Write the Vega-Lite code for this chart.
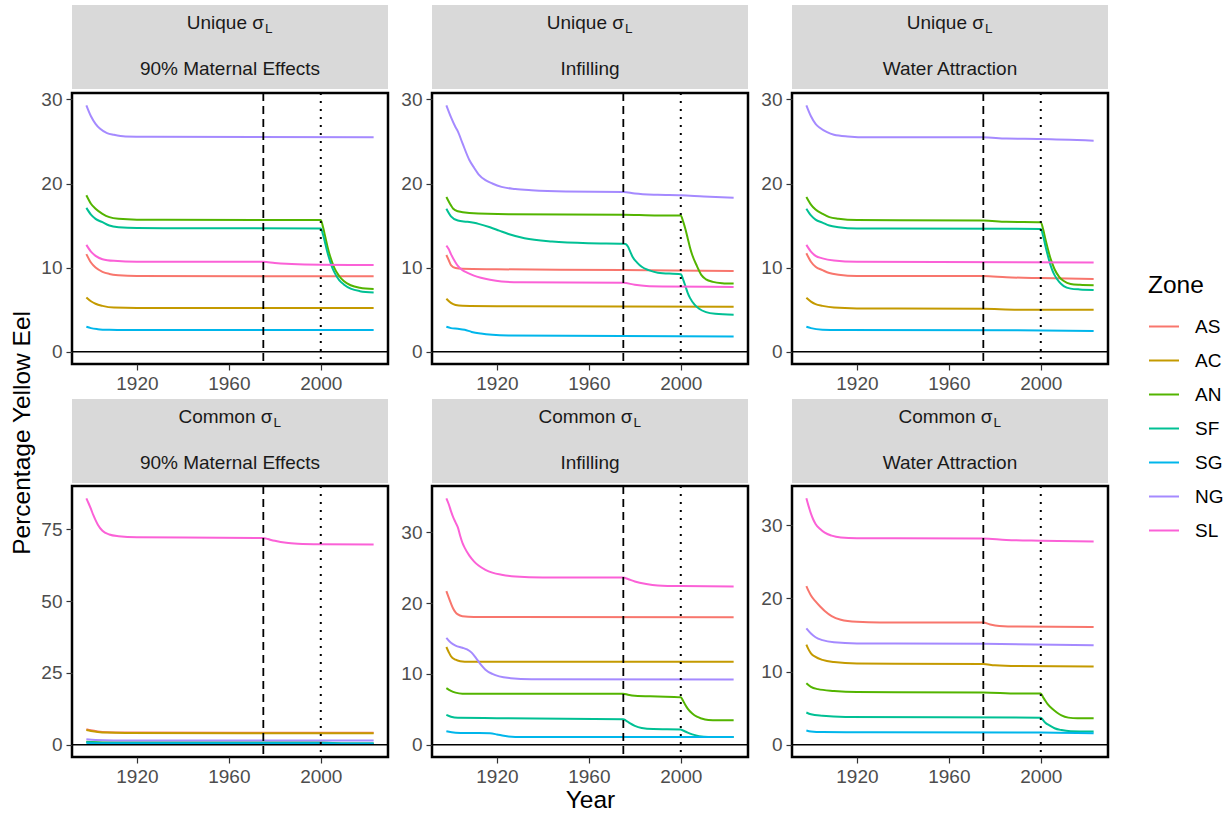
{
  "$schema": "https://vega.github.io/schema/vega-lite/v6.json",
  "background": "white",
  "padding": {"left": 10, "top": 5, "right": 5, "bottom": 5},
  "title": {"text": "Percentage Yellow Eel", "orient": "left", "anchor": "middle", "font": "Liberation Sans", "fontSize": 24.5, "fontWeight": "normal", "color": "black", "offset": 4, "dx": -24},
  "config": {
    "font": "Liberation Sans",
    "view": {"stroke": "black", "strokeWidth": 2.5},
    "axis": {"grid": false, "domain": false, "tickColor": "#333333", "tickSize": 6, "tickWidth": 1.2, "labelColor": "#4D4D4D", "labelFontSize": 19, "labelFont": "Liberation Sans", "labelPadding": 4, "labelFlush": false, "titleFont": "Liberation Sans", "titleFontSize": 24.5, "titleFontWeight": "normal", "titleColor": "black"},
    "legend": {"symbolType": "stroke", "symbolSize": 900, "symbolStrokeWidth": 2, "labelFontSize": 19, "labelColor": "black", "labelFont": "Liberation Sans", "titleFont": "Liberation Sans", "titleFontSize": 24.5, "titleFontWeight": "normal", "titleColor": "black", "titlePadding": 12, "rowPadding": 8, "labelOffset": 15, "padding": 0}
  },
  "datasets": {
    "strips": [
      {"panel": "U-ME", "sigma": "Unique σ", "sub": "L", "scenario": "90% Maternal Effects"},
      {"panel": "U-IN", "sigma": "Unique σ", "sub": "L", "scenario": "Infilling"},
      {"panel": "U-WA", "sigma": "Unique σ", "sub": "L", "scenario": "Water Attraction"},
      {"panel": "C-ME", "sigma": "Common σ", "sub": "L", "scenario": "90% Maternal Effects"},
      {"panel": "C-IN", "sigma": "Common σ", "sub": "L", "scenario": "Infilling"},
      {"panel": "C-WA", "sigma": "Common σ", "sub": "L", "scenario": "Water Attraction"}
    ],
    "eel": [
      {"panel":"U-ME","zone":"AS","year":1898,"pct":11.6},{"panel":"U-ME","zone":"AS","year":1900,"pct":10.6},{"panel":"U-ME","zone":"AS","year":1902,"pct":10.0},{"panel":"U-ME","zone":"AS","year":1905,"pct":9.5},{"panel":"U-ME","zone":"AS","year":1908,"pct":9.25},{"panel":"U-ME","zone":"AS","year":1912,"pct":9.1},{"panel":"U-ME","zone":"AS","year":1920,"pct":9.0},{"panel":"U-ME","zone":"AS","year":2023,"pct":8.97},
      {"panel":"U-ME","zone":"AC","year":1898,"pct":6.45},{"panel":"U-ME","zone":"AC","year":1900,"pct":6.0},{"panel":"U-ME","zone":"AC","year":1902,"pct":5.7},{"panel":"U-ME","zone":"AC","year":1905,"pct":5.45},{"panel":"U-ME","zone":"AC","year":1910,"pct":5.25},{"panel":"U-ME","zone":"AC","year":1920,"pct":5.2},{"panel":"U-ME","zone":"AC","year":2023,"pct":5.2},
      {"panel":"U-ME","zone":"AN","year":1898,"pct":18.6},{"panel":"U-ME","zone":"AN","year":1900,"pct":17.6},{"panel":"U-ME","zone":"AN","year":1902,"pct":17.0},{"panel":"U-ME","zone":"AN","year":1905,"pct":16.4},{"panel":"U-ME","zone":"AN","year":1908,"pct":16.0},{"panel":"U-ME","zone":"AN","year":1912,"pct":15.8},{"panel":"U-ME","zone":"AN","year":1920,"pct":15.7},{"panel":"U-ME","zone":"AN","year":2000,"pct":15.65},{"panel":"U-ME","zone":"AN","year":2001,"pct":14.8},{"panel":"U-ME","zone":"AN","year":2002,"pct":13.6},{"panel":"U-ME","zone":"AN","year":2003,"pct":12.4},{"panel":"U-ME","zone":"AN","year":2004,"pct":11.4},{"panel":"U-ME","zone":"AN","year":2005,"pct":10.6},{"panel":"U-ME","zone":"AN","year":2006,"pct":9.9},{"panel":"U-ME","zone":"AN","year":2008,"pct":9.0},{"panel":"U-ME","zone":"AN","year":2010,"pct":8.4},{"panel":"U-ME","zone":"AN","year":2013,"pct":7.9},{"panel":"U-ME","zone":"AN","year":2017,"pct":7.6},{"panel":"U-ME","zone":"AN","year":2023,"pct":7.45},
      {"panel":"U-ME","zone":"SF","year":1898,"pct":17.1},{"panel":"U-ME","zone":"SF","year":1900,"pct":16.3},{"panel":"U-ME","zone":"SF","year":1902,"pct":15.8},{"panel":"U-ME","zone":"SF","year":1905,"pct":15.4},{"panel":"U-ME","zone":"SF","year":1908,"pct":15.0},{"panel":"U-ME","zone":"SF","year":1912,"pct":14.8},{"panel":"U-ME","zone":"SF","year":1920,"pct":14.7},{"panel":"U-ME","zone":"SF","year":2000,"pct":14.65},{"panel":"U-ME","zone":"SF","year":2001,"pct":13.9},{"panel":"U-ME","zone":"SF","year":2002,"pct":12.8},{"panel":"U-ME","zone":"SF","year":2003,"pct":11.7},{"panel":"U-ME","zone":"SF","year":2004,"pct":10.8},{"panel":"U-ME","zone":"SF","year":2005,"pct":10.0},{"panel":"U-ME","zone":"SF","year":2006,"pct":9.4},{"panel":"U-ME","zone":"SF","year":2008,"pct":8.5},{"panel":"U-ME","zone":"SF","year":2010,"pct":8.0},{"panel":"U-ME","zone":"SF","year":2013,"pct":7.5},{"panel":"U-ME","zone":"SF","year":2017,"pct":7.2},{"panel":"U-ME","zone":"SF","year":2023,"pct":7.05},
      {"panel":"U-ME","zone":"SG","year":1898,"pct":2.96},{"panel":"U-ME","zone":"SG","year":1900,"pct":2.8},{"panel":"U-ME","zone":"SG","year":1903,"pct":2.68},{"panel":"U-ME","zone":"SG","year":1908,"pct":2.6},{"panel":"U-ME","zone":"SG","year":1915,"pct":2.57},{"panel":"U-ME","zone":"SG","year":2023,"pct":2.57},
      {"panel":"U-ME","zone":"NG","year":1898,"pct":29.3},{"panel":"U-ME","zone":"NG","year":1900,"pct":28.0},{"panel":"U-ME","zone":"NG","year":1902,"pct":27.1},{"panel":"U-ME","zone":"NG","year":1904,"pct":26.5},{"panel":"U-ME","zone":"NG","year":1907,"pct":26.0},{"panel":"U-ME","zone":"NG","year":1910,"pct":25.8},{"panel":"U-ME","zone":"NG","year":1915,"pct":25.6},{"panel":"U-ME","zone":"NG","year":1925,"pct":25.55},{"panel":"U-ME","zone":"NG","year":2023,"pct":25.5},
      {"panel":"U-ME","zone":"SL","year":1898,"pct":12.7},{"panel":"U-ME","zone":"SL","year":1900,"pct":11.9},{"panel":"U-ME","zone":"SL","year":1902,"pct":11.4},{"panel":"U-ME","zone":"SL","year":1905,"pct":11.0},{"panel":"U-ME","zone":"SL","year":1910,"pct":10.8},{"panel":"U-ME","zone":"SL","year":1920,"pct":10.7},{"panel":"U-ME","zone":"SL","year":1975,"pct":10.7},{"panel":"U-ME","zone":"SL","year":1980,"pct":10.55},{"panel":"U-ME","zone":"SL","year":1985,"pct":10.45},{"panel":"U-ME","zone":"SL","year":1990,"pct":10.4},{"panel":"U-ME","zone":"SL","year":2023,"pct":10.3},

      {"panel":"U-IN","zone":"AS","year":1898,"pct":11.5},{"panel":"U-IN","zone":"AS","year":1899,"pct":10.9},{"panel":"U-IN","zone":"AS","year":1900,"pct":10.3},{"panel":"U-IN","zone":"AS","year":1902,"pct":9.95},{"panel":"U-IN","zone":"AS","year":1905,"pct":9.85},{"panel":"U-IN","zone":"AS","year":1920,"pct":9.8},{"panel":"U-IN","zone":"AS","year":1975,"pct":9.7},{"panel":"U-IN","zone":"AS","year":2023,"pct":9.6},
      {"panel":"U-IN","zone":"AC","year":1898,"pct":6.3},{"panel":"U-IN","zone":"AC","year":1900,"pct":5.8},{"panel":"U-IN","zone":"AC","year":1902,"pct":5.55},{"panel":"U-IN","zone":"AC","year":1905,"pct":5.45},{"panel":"U-IN","zone":"AC","year":1920,"pct":5.4},{"panel":"U-IN","zone":"AC","year":2023,"pct":5.35},
      {"panel":"U-IN","zone":"AN","year":1898,"pct":18.4},{"panel":"U-IN","zone":"AN","year":1900,"pct":17.4},{"panel":"U-IN","zone":"AN","year":1901,"pct":17.0},{"panel":"U-IN","zone":"AN","year":1903,"pct":16.7},{"panel":"U-IN","zone":"AN","year":1908,"pct":16.5},{"panel":"U-IN","zone":"AN","year":1925,"pct":16.35},{"panel":"U-IN","zone":"AN","year":1975,"pct":16.3},{"panel":"U-IN","zone":"AN","year":1990,"pct":16.2},{"panel":"U-IN","zone":"AN","year":2000,"pct":16.2},{"panel":"U-IN","zone":"AN","year":2001,"pct":15.5},{"panel":"U-IN","zone":"AN","year":2002,"pct":14.6},{"panel":"U-IN","zone":"AN","year":2003,"pct":13.5},{"panel":"U-IN","zone":"AN","year":2004,"pct":12.4},{"panel":"U-IN","zone":"AN","year":2005,"pct":11.5},{"panel":"U-IN","zone":"AN","year":2007,"pct":10.2},{"panel":"U-IN","zone":"AN","year":2009,"pct":9.1},{"panel":"U-IN","zone":"AN","year":2011,"pct":8.6},{"panel":"U-IN","zone":"AN","year":2014,"pct":8.3},{"panel":"U-IN","zone":"AN","year":2018,"pct":8.15},{"panel":"U-IN","zone":"AN","year":2023,"pct":8.1},
      {"panel":"U-IN","zone":"SF","year":1898,"pct":17.0},{"panel":"U-IN","zone":"SF","year":1900,"pct":16.1},{"panel":"U-IN","zone":"SF","year":1903,"pct":15.6},{"panel":"U-IN","zone":"SF","year":1907,"pct":15.45},{"panel":"U-IN","zone":"SF","year":1912,"pct":15.2},{"panel":"U-IN","zone":"SF","year":1917,"pct":14.8},{"panel":"U-IN","zone":"SF","year":1921,"pct":14.4},{"panel":"U-IN","zone":"SF","year":1925,"pct":14.0},{"panel":"U-IN","zone":"SF","year":1932,"pct":13.5},{"panel":"U-IN","zone":"SF","year":1944,"pct":13.1},{"panel":"U-IN","zone":"SF","year":1960,"pct":12.9},{"panel":"U-IN","zone":"SF","year":1975,"pct":12.85},{"panel":"U-IN","zone":"SF","year":1976,"pct":12.8},{"panel":"U-IN","zone":"SF","year":1977,"pct":12.5},{"panel":"U-IN","zone":"SF","year":1978,"pct":11.9},{"panel":"U-IN","zone":"SF","year":1979,"pct":11.3},{"panel":"U-IN","zone":"SF","year":1981,"pct":10.6},{"panel":"U-IN","zone":"SF","year":1983,"pct":10.1},{"panel":"U-IN","zone":"SF","year":1986,"pct":9.7},{"panel":"U-IN","zone":"SF","year":1990,"pct":9.4},{"panel":"U-IN","zone":"SF","year":2000,"pct":9.2},{"panel":"U-IN","zone":"SF","year":2001,"pct":8.6},{"panel":"U-IN","zone":"SF","year":2002,"pct":7.8},{"panel":"U-IN","zone":"SF","year":2003,"pct":7.0},{"panel":"U-IN","zone":"SF","year":2004,"pct":6.4},{"panel":"U-IN","zone":"SF","year":2006,"pct":5.6},{"panel":"U-IN","zone":"SF","year":2008,"pct":5.1},{"panel":"U-IN","zone":"SF","year":2011,"pct":4.7},{"panel":"U-IN","zone":"SF","year":2015,"pct":4.5},{"panel":"U-IN","zone":"SF","year":2023,"pct":4.4},
      {"panel":"U-IN","zone":"SG","year":1898,"pct":2.96},{"panel":"U-IN","zone":"SG","year":1900,"pct":2.8},{"panel":"U-IN","zone":"SG","year":1903,"pct":2.72},{"panel":"U-IN","zone":"SG","year":1906,"pct":2.6},{"panel":"U-IN","zone":"SG","year":1909,"pct":2.35},{"panel":"U-IN","zone":"SG","year":1913,"pct":2.15},{"panel":"U-IN","zone":"SG","year":1918,"pct":2.0},{"panel":"U-IN","zone":"SG","year":1925,"pct":1.92},{"panel":"U-IN","zone":"SG","year":1950,"pct":1.88},{"panel":"U-IN","zone":"SG","year":2023,"pct":1.8},
      {"panel":"U-IN","zone":"NG","year":1898,"pct":29.3},{"panel":"U-IN","zone":"NG","year":1900,"pct":27.9},{"panel":"U-IN","zone":"NG","year":1902,"pct":26.7},{"panel":"U-IN","zone":"NG","year":1903,"pct":26.2},{"panel":"U-IN","zone":"NG","year":1905,"pct":24.8},{"panel":"U-IN","zone":"NG","year":1908,"pct":22.8},{"panel":"U-IN","zone":"NG","year":1910,"pct":21.9},{"panel":"U-IN","zone":"NG","year":1912,"pct":21.1},{"panel":"U-IN","zone":"NG","year":1915,"pct":20.4},{"panel":"U-IN","zone":"NG","year":1918,"pct":20.0},{"panel":"U-IN","zone":"NG","year":1922,"pct":19.6},{"panel":"U-IN","zone":"NG","year":1928,"pct":19.35},{"panel":"U-IN","zone":"NG","year":1935,"pct":19.2},{"panel":"U-IN","zone":"NG","year":1950,"pct":19.05},{"panel":"U-IN","zone":"NG","year":1975,"pct":19.0},{"panel":"U-IN","zone":"NG","year":1980,"pct":18.8},{"panel":"U-IN","zone":"NG","year":1990,"pct":18.65},{"panel":"U-IN","zone":"NG","year":2000,"pct":18.6},{"panel":"U-IN","zone":"NG","year":2010,"pct":18.45},{"panel":"U-IN","zone":"NG","year":2023,"pct":18.3},
      {"panel":"U-IN","zone":"SL","year":1898,"pct":12.6},{"panel":"U-IN","zone":"SL","year":1899,"pct":12.2},{"panel":"U-IN","zone":"SL","year":1900,"pct":11.6},{"panel":"U-IN","zone":"SL","year":1902,"pct":10.6},{"panel":"U-IN","zone":"SL","year":1903,"pct":10.2},{"panel":"U-IN","zone":"SL","year":1905,"pct":9.7},{"panel":"U-IN","zone":"SL","year":1907,"pct":9.4},{"panel":"U-IN","zone":"SL","year":1910,"pct":9.05},{"panel":"U-IN","zone":"SL","year":1913,"pct":8.8},{"panel":"U-IN","zone":"SL","year":1917,"pct":8.55},{"panel":"U-IN","zone":"SL","year":1922,"pct":8.35},{"panel":"U-IN","zone":"SL","year":1930,"pct":8.25},{"panel":"U-IN","zone":"SL","year":1975,"pct":8.2},{"panel":"U-IN","zone":"SL","year":1980,"pct":7.95},{"panel":"U-IN","zone":"SL","year":1985,"pct":7.8},{"panel":"U-IN","zone":"SL","year":1992,"pct":7.75},{"panel":"U-IN","zone":"SL","year":2023,"pct":7.7},

      {"panel":"U-WA","zone":"AS","year":1898,"pct":11.7},{"panel":"U-WA","zone":"AS","year":1900,"pct":10.7},{"panel":"U-WA","zone":"AS","year":1902,"pct":10.1},{"panel":"U-WA","zone":"AS","year":1905,"pct":9.7},{"panel":"U-WA","zone":"AS","year":1908,"pct":9.35},{"panel":"U-WA","zone":"AS","year":1912,"pct":9.15},{"panel":"U-WA","zone":"AS","year":1920,"pct":9.0},{"panel":"U-WA","zone":"AS","year":1975,"pct":9.0},{"panel":"U-WA","zone":"AS","year":1985,"pct":8.85},{"panel":"U-WA","zone":"AS","year":2000,"pct":8.75},{"panel":"U-WA","zone":"AS","year":2023,"pct":8.65},
      {"panel":"U-WA","zone":"AC","year":1898,"pct":6.4},{"panel":"U-WA","zone":"AC","year":1900,"pct":5.95},{"panel":"U-WA","zone":"AC","year":1902,"pct":5.65},{"panel":"U-WA","zone":"AC","year":1905,"pct":5.45},{"panel":"U-WA","zone":"AC","year":1910,"pct":5.25},{"panel":"U-WA","zone":"AC","year":1920,"pct":5.15},{"panel":"U-WA","zone":"AC","year":1975,"pct":5.1},{"panel":"U-WA","zone":"AC","year":1990,"pct":5.0},{"panel":"U-WA","zone":"AC","year":2023,"pct":5.0},
      {"panel":"U-WA","zone":"AN","year":1898,"pct":18.4},{"panel":"U-WA","zone":"AN","year":1900,"pct":17.5},{"panel":"U-WA","zone":"AN","year":1902,"pct":16.9},{"panel":"U-WA","zone":"AN","year":1905,"pct":16.4},{"panel":"U-WA","zone":"AN","year":1908,"pct":16.0},{"panel":"U-WA","zone":"AN","year":1912,"pct":15.8},{"panel":"U-WA","zone":"AN","year":1920,"pct":15.65},{"panel":"U-WA","zone":"AN","year":1975,"pct":15.6},{"panel":"U-WA","zone":"AN","year":1985,"pct":15.45},{"panel":"U-WA","zone":"AN","year":2000,"pct":15.4},{"panel":"U-WA","zone":"AN","year":2001,"pct":14.6},{"panel":"U-WA","zone":"AN","year":2002,"pct":13.4},{"panel":"U-WA","zone":"AN","year":2003,"pct":12.3},{"panel":"U-WA","zone":"AN","year":2004,"pct":11.3},{"panel":"U-WA","zone":"AN","year":2005,"pct":10.5},{"panel":"U-WA","zone":"AN","year":2006,"pct":9.8},{"panel":"U-WA","zone":"AN","year":2008,"pct":8.9},{"panel":"U-WA","zone":"AN","year":2010,"pct":8.4},{"panel":"U-WA","zone":"AN","year":2013,"pct":8.05},{"panel":"U-WA","zone":"AN","year":2017,"pct":7.95},{"panel":"U-WA","zone":"AN","year":2023,"pct":7.9},
      {"panel":"U-WA","zone":"SF","year":1898,"pct":17.0},{"panel":"U-WA","zone":"SF","year":1900,"pct":16.2},{"panel":"U-WA","zone":"SF","year":1902,"pct":15.7},{"panel":"U-WA","zone":"SF","year":1905,"pct":15.35},{"panel":"U-WA","zone":"SF","year":1908,"pct":15.0},{"panel":"U-WA","zone":"SF","year":1912,"pct":14.8},{"panel":"U-WA","zone":"SF","year":1920,"pct":14.65},{"panel":"U-WA","zone":"SF","year":2000,"pct":14.6},{"panel":"U-WA","zone":"SF","year":2001,"pct":13.8},{"panel":"U-WA","zone":"SF","year":2002,"pct":12.6},{"panel":"U-WA","zone":"SF","year":2003,"pct":11.5},{"panel":"U-WA","zone":"SF","year":2004,"pct":10.5},{"panel":"U-WA","zone":"SF","year":2005,"pct":9.7},{"panel":"U-WA","zone":"SF","year":2006,"pct":9.1},{"panel":"U-WA","zone":"SF","year":2008,"pct":8.3},{"panel":"U-WA","zone":"SF","year":2010,"pct":7.8},{"panel":"U-WA","zone":"SF","year":2013,"pct":7.5},{"panel":"U-WA","zone":"SF","year":2017,"pct":7.4},{"panel":"U-WA","zone":"SF","year":2023,"pct":7.35},
      {"panel":"U-WA","zone":"SG","year":1898,"pct":2.96},{"panel":"U-WA","zone":"SG","year":1900,"pct":2.8},{"panel":"U-WA","zone":"SG","year":1905,"pct":2.62},{"panel":"U-WA","zone":"SG","year":1912,"pct":2.57},{"panel":"U-WA","zone":"SG","year":1990,"pct":2.55},{"panel":"U-WA","zone":"SG","year":2023,"pct":2.45},
      {"panel":"U-WA","zone":"NG","year":1898,"pct":29.3},{"panel":"U-WA","zone":"NG","year":1900,"pct":28.0},{"panel":"U-WA","zone":"NG","year":1902,"pct":27.1},{"panel":"U-WA","zone":"NG","year":1904,"pct":26.6},{"panel":"U-WA","zone":"NG","year":1907,"pct":26.1},{"panel":"U-WA","zone":"NG","year":1910,"pct":25.8},{"panel":"U-WA","zone":"NG","year":1916,"pct":25.6},{"panel":"U-WA","zone":"NG","year":1925,"pct":25.5},{"panel":"U-WA","zone":"NG","year":1975,"pct":25.5},{"panel":"U-WA","zone":"NG","year":1985,"pct":25.35},{"panel":"U-WA","zone":"NG","year":2000,"pct":25.3},{"panel":"U-WA","zone":"NG","year":2023,"pct":25.1},
      {"panel":"U-WA","zone":"SL","year":1898,"pct":12.7},{"panel":"U-WA","zone":"SL","year":1900,"pct":11.9},{"panel":"U-WA","zone":"SL","year":1902,"pct":11.4},{"panel":"U-WA","zone":"SL","year":1905,"pct":11.1},{"panel":"U-WA","zone":"SL","year":1910,"pct":10.85},{"panel":"U-WA","zone":"SL","year":1920,"pct":10.7},{"panel":"U-WA","zone":"SL","year":2023,"pct":10.6},

      {"panel":"C-ME","zone":"AS","year":1898,"pct":5.4},{"panel":"C-ME","zone":"AS","year":1900,"pct":5.0},{"panel":"C-ME","zone":"AS","year":1903,"pct":4.6},{"panel":"C-ME","zone":"AS","year":1907,"pct":4.35},{"panel":"C-ME","zone":"AS","year":1915,"pct":4.25},{"panel":"C-ME","zone":"AS","year":2023,"pct":4.15},
      {"panel":"C-ME","zone":"AC","year":1898,"pct":5.1},{"panel":"C-ME","zone":"AC","year":1900,"pct":4.8},{"panel":"C-ME","zone":"AC","year":1903,"pct":4.45},{"panel":"C-ME","zone":"AC","year":1907,"pct":4.2},{"panel":"C-ME","zone":"AC","year":1915,"pct":4.05},{"panel":"C-ME","zone":"AC","year":2023,"pct":4.0},
      {"panel":"C-ME","zone":"AN","year":1898,"pct":1.0},{"panel":"C-ME","zone":"AN","year":1905,"pct":0.8},{"panel":"C-ME","zone":"AN","year":1975,"pct":0.8},{"panel":"C-ME","zone":"AN","year":2000,"pct":0.75},{"panel":"C-ME","zone":"AN","year":2010,"pct":0.45},{"panel":"C-ME","zone":"AN","year":2023,"pct":0.4},
      {"panel":"C-ME","zone":"SF","year":1898,"pct":0.9},{"panel":"C-ME","zone":"SF","year":1905,"pct":0.7},{"panel":"C-ME","zone":"SF","year":2000,"pct":0.65},{"panel":"C-ME","zone":"SF","year":2010,"pct":0.35},{"panel":"C-ME","zone":"SF","year":2023,"pct":0.3},
      {"panel":"C-ME","zone":"SG","year":1898,"pct":0.5},{"panel":"C-ME","zone":"SG","year":1910,"pct":0.4},{"panel":"C-ME","zone":"SG","year":2023,"pct":0.38},
      {"panel":"C-ME","zone":"NG","year":1898,"pct":1.9},{"panel":"C-ME","zone":"NG","year":1902,"pct":1.6},{"panel":"C-ME","zone":"NG","year":1910,"pct":1.5},{"panel":"C-ME","zone":"NG","year":2023,"pct":1.45},
      {"panel":"C-ME","zone":"SL","year":1898,"pct":85.8},{"panel":"C-ME","zone":"SL","year":1899,"pct":84.0},{"panel":"C-ME","zone":"SL","year":1900,"pct":82.1},{"panel":"C-ME","zone":"SL","year":1901,"pct":80.0},{"panel":"C-ME","zone":"SL","year":1902,"pct":78.2},{"panel":"C-ME","zone":"SL","year":1903,"pct":76.6},{"panel":"C-ME","zone":"SL","year":1905,"pct":74.5},{"panel":"C-ME","zone":"SL","year":1908,"pct":73.2},{"panel":"C-ME","zone":"SL","year":1912,"pct":72.6},{"panel":"C-ME","zone":"SL","year":1920,"pct":72.2},{"panel":"C-ME","zone":"SL","year":1975,"pct":72.0},{"panel":"C-ME","zone":"SL","year":1977,"pct":71.6},{"panel":"C-ME","zone":"SL","year":1980,"pct":71.0},{"panel":"C-ME","zone":"SL","year":1985,"pct":70.3},{"panel":"C-ME","zone":"SL","year":1990,"pct":70.0},{"panel":"C-ME","zone":"SL","year":2000,"pct":69.8},{"panel":"C-ME","zone":"SL","year":2023,"pct":69.7},

      {"panel":"C-IN","zone":"AS","year":1898,"pct":21.7},{"panel":"C-IN","zone":"AS","year":1899,"pct":20.8},{"panel":"C-IN","zone":"AS","year":1900,"pct":19.95},{"panel":"C-IN","zone":"AS","year":1901,"pct":19.2},{"panel":"C-IN","zone":"AS","year":1902,"pct":18.7},{"panel":"C-IN","zone":"AS","year":1903,"pct":18.4},{"panel":"C-IN","zone":"AS","year":1905,"pct":18.15},{"panel":"C-IN","zone":"AS","year":1910,"pct":18.05},{"panel":"C-IN","zone":"AS","year":2023,"pct":18.0},
      {"panel":"C-IN","zone":"AC","year":1898,"pct":13.8},{"panel":"C-IN","zone":"AC","year":1899,"pct":13.1},{"panel":"C-IN","zone":"AC","year":1900,"pct":12.5},{"panel":"C-IN","zone":"AC","year":1902,"pct":12.0},{"panel":"C-IN","zone":"AC","year":1904,"pct":11.8},{"panel":"C-IN","zone":"AC","year":1908,"pct":11.7},{"panel":"C-IN","zone":"AC","year":2023,"pct":11.7},
      {"panel":"C-IN","zone":"AN","year":1898,"pct":8.0},{"panel":"C-IN","zone":"AN","year":1900,"pct":7.6},{"panel":"C-IN","zone":"AN","year":1902,"pct":7.35},{"panel":"C-IN","zone":"AN","year":1905,"pct":7.2},{"panel":"C-IN","zone":"AN","year":1975,"pct":7.2},{"panel":"C-IN","zone":"AN","year":1977,"pct":7.05},{"panel":"C-IN","zone":"AN","year":1980,"pct":6.9},{"panel":"C-IN","zone":"AN","year":1990,"pct":6.8},{"panel":"C-IN","zone":"AN","year":2000,"pct":6.7},{"panel":"C-IN","zone":"AN","year":2001,"pct":6.2},{"panel":"C-IN","zone":"AN","year":2002,"pct":5.6},{"panel":"C-IN","zone":"AN","year":2003,"pct":5.1},{"panel":"C-IN","zone":"AN","year":2005,"pct":4.4},{"panel":"C-IN","zone":"AN","year":2007,"pct":3.95},{"panel":"C-IN","zone":"AN","year":2009,"pct":3.7},{"panel":"C-IN","zone":"AN","year":2012,"pct":3.5},{"panel":"C-IN","zone":"AN","year":2016,"pct":3.45},{"panel":"C-IN","zone":"AN","year":2023,"pct":3.45},
      {"panel":"C-IN","zone":"SF","year":1898,"pct":4.2},{"panel":"C-IN","zone":"SF","year":1900,"pct":3.95},{"panel":"C-IN","zone":"SF","year":1903,"pct":3.8},{"panel":"C-IN","zone":"SF","year":1920,"pct":3.75},{"panel":"C-IN","zone":"SF","year":1975,"pct":3.6},{"panel":"C-IN","zone":"SF","year":1976,"pct":3.45},{"panel":"C-IN","zone":"SF","year":1978,"pct":3.0},{"panel":"C-IN","zone":"SF","year":1980,"pct":2.65},{"panel":"C-IN","zone":"SF","year":1983,"pct":2.35},{"panel":"C-IN","zone":"SF","year":1988,"pct":2.2},{"panel":"C-IN","zone":"SF","year":2000,"pct":2.15},{"panel":"C-IN","zone":"SF","year":2001,"pct":2.0},{"panel":"C-IN","zone":"SF","year":2003,"pct":1.7},{"panel":"C-IN","zone":"SF","year":2005,"pct":1.45},{"panel":"C-IN","zone":"SF","year":2008,"pct":1.2},{"panel":"C-IN","zone":"SF","year":2012,"pct":1.1},{"panel":"C-IN","zone":"SF","year":2023,"pct":1.1},
      {"panel":"C-IN","zone":"SG","year":1898,"pct":1.9},{"panel":"C-IN","zone":"SG","year":1902,"pct":1.7},{"panel":"C-IN","zone":"SG","year":1910,"pct":1.65},{"panel":"C-IN","zone":"SG","year":1917,"pct":1.6},{"panel":"C-IN","zone":"SG","year":1920,"pct":1.45},{"panel":"C-IN","zone":"SG","year":1923,"pct":1.25},{"panel":"C-IN","zone":"SG","year":1928,"pct":1.1},{"panel":"C-IN","zone":"SG","year":2023,"pct":1.1},
      {"panel":"C-IN","zone":"NG","year":1898,"pct":15.1},{"panel":"C-IN","zone":"NG","year":1900,"pct":14.4},{"panel":"C-IN","zone":"NG","year":1902,"pct":14.0},{"panel":"C-IN","zone":"NG","year":1905,"pct":13.7},{"panel":"C-IN","zone":"NG","year":1907,"pct":13.45},{"panel":"C-IN","zone":"NG","year":1909,"pct":13.0},{"panel":"C-IN","zone":"NG","year":1911,"pct":12.2},{"panel":"C-IN","zone":"NG","year":1913,"pct":11.3},{"panel":"C-IN","zone":"NG","year":1915,"pct":10.6},{"panel":"C-IN","zone":"NG","year":1918,"pct":10.0},{"panel":"C-IN","zone":"NG","year":1921,"pct":9.65},{"panel":"C-IN","zone":"NG","year":1926,"pct":9.4},{"panel":"C-IN","zone":"NG","year":1935,"pct":9.25},{"panel":"C-IN","zone":"NG","year":2023,"pct":9.2},
      {"panel":"C-IN","zone":"SL","year":1898,"pct":34.8},{"panel":"C-IN","zone":"SL","year":1899,"pct":34.0},{"panel":"C-IN","zone":"SL","year":1900,"pct":33.0},{"panel":"C-IN","zone":"SL","year":1901,"pct":32.1},{"panel":"C-IN","zone":"SL","year":1902,"pct":31.4},{"panel":"C-IN","zone":"SL","year":1903,"pct":30.7},{"panel":"C-IN","zone":"SL","year":1904,"pct":29.5},{"panel":"C-IN","zone":"SL","year":1905,"pct":28.5},{"panel":"C-IN","zone":"SL","year":1906,"pct":27.8},{"panel":"C-IN","zone":"SL","year":1908,"pct":26.7},{"panel":"C-IN","zone":"SL","year":1910,"pct":25.9},{"panel":"C-IN","zone":"SL","year":1912,"pct":25.3},{"panel":"C-IN","zone":"SL","year":1915,"pct":24.7},{"panel":"C-IN","zone":"SL","year":1918,"pct":24.3},{"panel":"C-IN","zone":"SL","year":1922,"pct":24.0},{"panel":"C-IN","zone":"SL","year":1928,"pct":23.75},{"panel":"C-IN","zone":"SL","year":1940,"pct":23.6},{"panel":"C-IN","zone":"SL","year":1975,"pct":23.6},{"panel":"C-IN","zone":"SL","year":1977,"pct":23.4},{"panel":"C-IN","zone":"SL","year":1980,"pct":23.05},{"panel":"C-IN","zone":"SL","year":1985,"pct":22.7},{"panel":"C-IN","zone":"SL","year":1990,"pct":22.5},{"panel":"C-IN","zone":"SL","year":2000,"pct":22.4},{"panel":"C-IN","zone":"SL","year":2023,"pct":22.35},

      {"panel":"C-WA","zone":"AS","year":1898,"pct":21.7},{"panel":"C-WA","zone":"AS","year":1899,"pct":21.0},{"panel":"C-WA","zone":"AS","year":1900,"pct":20.4},{"panel":"C-WA","zone":"AS","year":1902,"pct":19.6},{"panel":"C-WA","zone":"AS","year":1904,"pct":18.9},{"panel":"C-WA","zone":"AS","year":1906,"pct":18.3},{"panel":"C-WA","zone":"AS","year":1909,"pct":17.6},{"panel":"C-WA","zone":"AS","year":1913,"pct":17.1},{"panel":"C-WA","zone":"AS","year":1920,"pct":16.8},{"panel":"C-WA","zone":"AS","year":1930,"pct":16.7},{"panel":"C-WA","zone":"AS","year":1975,"pct":16.7},{"panel":"C-WA","zone":"AS","year":1978,"pct":16.45},{"panel":"C-WA","zone":"AS","year":1982,"pct":16.25},{"panel":"C-WA","zone":"AS","year":1990,"pct":16.15},{"panel":"C-WA","zone":"AS","year":2023,"pct":16.1},
      {"panel":"C-WA","zone":"AC","year":1898,"pct":13.7},{"panel":"C-WA","zone":"AC","year":1899,"pct":13.0},{"panel":"C-WA","zone":"AC","year":1900,"pct":12.5},{"panel":"C-WA","zone":"AC","year":1902,"pct":12.0},{"panel":"C-WA","zone":"AC","year":1905,"pct":11.6},{"panel":"C-WA","zone":"AC","year":1910,"pct":11.3},{"panel":"C-WA","zone":"AC","year":1920,"pct":11.1},{"panel":"C-WA","zone":"AC","year":1975,"pct":11.05},{"panel":"C-WA","zone":"AC","year":1980,"pct":10.85},{"panel":"C-WA","zone":"AC","year":1990,"pct":10.75},{"panel":"C-WA","zone":"AC","year":2023,"pct":10.7},
      {"panel":"C-WA","zone":"AN","year":1898,"pct":8.4},{"panel":"C-WA","zone":"AN","year":1900,"pct":7.9},{"panel":"C-WA","zone":"AN","year":1903,"pct":7.6},{"panel":"C-WA","zone":"AN","year":1910,"pct":7.35},{"panel":"C-WA","zone":"AN","year":1920,"pct":7.2},{"panel":"C-WA","zone":"AN","year":1975,"pct":7.15},{"panel":"C-WA","zone":"AN","year":1990,"pct":7.0},{"panel":"C-WA","zone":"AN","year":2000,"pct":7.0},{"panel":"C-WA","zone":"AN","year":2001,"pct":6.5},{"panel":"C-WA","zone":"AN","year":2002,"pct":6.0},{"panel":"C-WA","zone":"AN","year":2003,"pct":5.55},{"panel":"C-WA","zone":"AN","year":2005,"pct":4.9},{"panel":"C-WA","zone":"AN","year":2007,"pct":4.4},{"panel":"C-WA","zone":"AN","year":2009,"pct":4.0},{"panel":"C-WA","zone":"AN","year":2012,"pct":3.7},{"panel":"C-WA","zone":"AN","year":2016,"pct":3.6},{"panel":"C-WA","zone":"AN","year":2023,"pct":3.6},
      {"panel":"C-WA","zone":"SF","year":1898,"pct":4.4},{"panel":"C-WA","zone":"SF","year":1900,"pct":4.15},{"panel":"C-WA","zone":"SF","year":1905,"pct":3.95},{"panel":"C-WA","zone":"SF","year":1915,"pct":3.8},{"panel":"C-WA","zone":"SF","year":2000,"pct":3.7},{"panel":"C-WA","zone":"SF","year":2001,"pct":3.35},{"panel":"C-WA","zone":"SF","year":2002,"pct":3.0},{"panel":"C-WA","zone":"SF","year":2004,"pct":2.6},{"panel":"C-WA","zone":"SF","year":2006,"pct":2.25},{"panel":"C-WA","zone":"SF","year":2009,"pct":2.0},{"panel":"C-WA","zone":"SF","year":2013,"pct":1.85},{"panel":"C-WA","zone":"SF","year":2023,"pct":1.8},
      {"panel":"C-WA","zone":"SG","year":1898,"pct":1.95},{"panel":"C-WA","zone":"SG","year":1900,"pct":1.8},{"panel":"C-WA","zone":"SG","year":1905,"pct":1.72},{"panel":"C-WA","zone":"SG","year":1920,"pct":1.7},{"panel":"C-WA","zone":"SG","year":2000,"pct":1.65},{"panel":"C-WA","zone":"SG","year":2023,"pct":1.55},
      {"panel":"C-WA","zone":"NG","year":1898,"pct":15.9},{"panel":"C-WA","zone":"NG","year":1900,"pct":15.2},{"panel":"C-WA","zone":"NG","year":1902,"pct":14.7},{"panel":"C-WA","zone":"NG","year":1905,"pct":14.3},{"panel":"C-WA","zone":"NG","year":1910,"pct":14.0},{"panel":"C-WA","zone":"NG","year":1920,"pct":13.85},{"panel":"C-WA","zone":"NG","year":1975,"pct":13.8},{"panel":"C-WA","zone":"NG","year":2023,"pct":13.6},
      {"panel":"C-WA","zone":"SL","year":1898,"pct":33.7},{"panel":"C-WA","zone":"SL","year":1899,"pct":32.6},{"panel":"C-WA","zone":"SL","year":1900,"pct":31.6},{"panel":"C-WA","zone":"SL","year":1901,"pct":30.8},{"panel":"C-WA","zone":"SL","year":1902,"pct":30.2},{"panel":"C-WA","zone":"SL","year":1904,"pct":29.5},{"panel":"C-WA","zone":"SL","year":1906,"pct":29.0},{"panel":"C-WA","zone":"SL","year":1909,"pct":28.6},{"panel":"C-WA","zone":"SL","year":1913,"pct":28.35},{"panel":"C-WA","zone":"SL","year":1920,"pct":28.25},{"panel":"C-WA","zone":"SL","year":1975,"pct":28.2},{"panel":"C-WA","zone":"SL","year":1985,"pct":28.0},{"panel":"C-WA","zone":"SL","year":2000,"pct":27.9},{"panel":"C-WA","zone":"SL","year":2023,"pct":27.8}
    ]
  },
  "spacing": 4,
  "resolve": {"scale": {"color": "shared"}},
  "vconcat": [
    {
      "spacing": 8,
      "hconcat": [
        {
          "spacing": 0,
          "vconcat": [
            {"width": 316, "height": 84, "view": {"fill": "#D9D9D9", "stroke": null},
             "data": {"name": "strips"}, "transform": [{"filter": "datum.panel === 'U-ME'"}],
             "layer": [
               {"mark": {"type": "text", "align": "right", "baseline": "alphabetic", "dx": 34, "dy": -18, "fontSize": 19, "color": "#1A1A1A"}, "encoding": {"text": {"field": "sigma"}}},
               {"mark": {"type": "text", "align": "left", "baseline": "alphabetic", "dx": 35, "dy": -14, "fontSize": 13.5, "color": "#1A1A1A"}, "encoding": {"text": {"field": "sub"}}},
               {"mark": {"type": "text", "align": "center", "baseline": "alphabetic", "dy": 28, "fontSize": 19, "color": "#1A1A1A"}, "encoding": {"text": {"field": "scenario"}}}
             ]},
            {"width": 316, "height": 271,
             "layer": [
               {"data": {"name": "eel"}, "transform": [{"filter": "datum.panel === 'U-ME'"}],
                "mark": {"type": "line", "strokeWidth": 2, "interpolate": "monotone"},
                "encoding": {
                  "x": {"field": "year", "type": "quantitative", "scale": {"domain": [1891.75, 2029.25], "nice": false, "zero": false}, "axis": {"values": [1920, 1960, 2000], "format": "d", "title": null}},
                  "y": {"field": "pct", "type": "quantitative", "scale": {"domain": [-1.465, 30.765], "nice": false, "zero": false}, "axis": {"values": [0, 10, 20, 30], "title": null}},
                  "color": {"field": "zone", "type": "nominal", "scale": {"domain": ["AS", "AC", "AN", "SF", "SG", "NG", "SL"], "range": ["#F8766D", "#C49A00", "#53B400", "#00C094", "#00B6EB", "#A58AFF", "#FB61D7"]}, "legend": {"title": "Zone", "orient": "none", "legendX": 1076, "legendY": 269}}
                }},
               {"data": {"values": [{"year": 1975}]}, "mark": {"type": "rule", "color": "black", "strokeWidth": 1.8, "strokeDash": [8, 5]}, "encoding": {"x": {"field": "year", "type": "quantitative"}}},
               {"data": {"values": [{"year": 2000}]}, "mark": {"type": "rule", "color": "black", "strokeWidth": 2, "strokeDash": [2, 6]}, "encoding": {"x": {"field": "year", "type": "quantitative"}}},
               {"data": {"values": [{"pct": 0}]}, "mark": {"type": "rule", "color": "black", "strokeWidth": 1.6}, "encoding": {"y": {"field": "pct", "type": "quantitative"}}}
             ]}
          ]
        },
        {
          "spacing": 0,
          "vconcat": [
            {"width": 316, "height": 84, "view": {"fill": "#D9D9D9", "stroke": null},
             "data": {"name": "strips"}, "transform": [{"filter": "datum.panel === 'U-IN'"}],
             "layer": [
               {"mark": {"type": "text", "align": "right", "baseline": "alphabetic", "dx": 34, "dy": -18, "fontSize": 19, "color": "#1A1A1A"}, "encoding": {"text": {"field": "sigma"}}},
               {"mark": {"type": "text", "align": "left", "baseline": "alphabetic", "dx": 35, "dy": -14, "fontSize": 13.5, "color": "#1A1A1A"}, "encoding": {"text": {"field": "sub"}}},
               {"mark": {"type": "text", "align": "center", "baseline": "alphabetic", "dy": 28, "fontSize": 19, "color": "#1A1A1A"}, "encoding": {"text": {"field": "scenario"}}}
             ]},
            {"width": 316, "height": 271,
             "layer": [
               {"data": {"name": "eel"}, "transform": [{"filter": "datum.panel === 'U-IN'"}],
                "mark": {"type": "line", "strokeWidth": 2, "interpolate": "monotone"},
                "encoding": {
                  "x": {"field": "year", "type": "quantitative", "scale": {"domain": [1891.75, 2029.25], "nice": false, "zero": false}, "axis": {"values": [1920, 1960, 2000], "format": "d", "title": null}},
                  "y": {"field": "pct", "type": "quantitative", "scale": {"domain": [-1.465, 30.765], "nice": false, "zero": false}, "axis": {"values": [0, 10, 20, 30], "title": null}},
                  "color": {"field": "zone", "type": "nominal", "scale": {"domain": ["AS", "AC", "AN", "SF", "SG", "NG", "SL"], "range": ["#F8766D", "#C49A00", "#53B400", "#00C094", "#00B6EB", "#A58AFF", "#FB61D7"]}, "legend": {"title": "Zone", "orient": "none", "legendX": 1076, "legendY": 269}}
                }},
               {"data": {"values": [{"year": 1975}]}, "mark": {"type": "rule", "color": "black", "strokeWidth": 1.8, "strokeDash": [8, 5]}, "encoding": {"x": {"field": "year", "type": "quantitative"}}},
               {"data": {"values": [{"year": 2000}]}, "mark": {"type": "rule", "color": "black", "strokeWidth": 2, "strokeDash": [2, 6]}, "encoding": {"x": {"field": "year", "type": "quantitative"}}},
               {"data": {"values": [{"pct": 0}]}, "mark": {"type": "rule", "color": "black", "strokeWidth": 1.6}, "encoding": {"y": {"field": "pct", "type": "quantitative"}}}
             ]}
          ]
        },
        {
          "spacing": 0,
          "vconcat": [
            {"width": 316, "height": 84, "view": {"fill": "#D9D9D9", "stroke": null},
             "data": {"name": "strips"}, "transform": [{"filter": "datum.panel === 'U-WA'"}],
             "layer": [
               {"mark": {"type": "text", "align": "right", "baseline": "alphabetic", "dx": 34, "dy": -18, "fontSize": 19, "color": "#1A1A1A"}, "encoding": {"text": {"field": "sigma"}}},
               {"mark": {"type": "text", "align": "left", "baseline": "alphabetic", "dx": 35, "dy": -14, "fontSize": 13.5, "color": "#1A1A1A"}, "encoding": {"text": {"field": "sub"}}},
               {"mark": {"type": "text", "align": "center", "baseline": "alphabetic", "dy": 28, "fontSize": 19, "color": "#1A1A1A"}, "encoding": {"text": {"field": "scenario"}}}
             ]},
            {"width": 316, "height": 271,
             "layer": [
               {"data": {"name": "eel"}, "transform": [{"filter": "datum.panel === 'U-WA'"}],
                "mark": {"type": "line", "strokeWidth": 2, "interpolate": "monotone"},
                "encoding": {
                  "x": {"field": "year", "type": "quantitative", "scale": {"domain": [1891.75, 2029.25], "nice": false, "zero": false}, "axis": {"values": [1920, 1960, 2000], "format": "d", "title": null}},
                  "y": {"field": "pct", "type": "quantitative", "scale": {"domain": [-1.465, 30.765], "nice": false, "zero": false}, "axis": {"values": [0, 10, 20, 30], "title": null}},
                  "color": {"field": "zone", "type": "nominal", "scale": {"domain": ["AS", "AC", "AN", "SF", "SG", "NG", "SL"], "range": ["#F8766D", "#C49A00", "#53B400", "#00C094", "#00B6EB", "#A58AFF", "#FB61D7"]}, "legend": {"title": "Zone", "orient": "none", "legendX": 1076, "legendY": 269}}
                }},
               {"data": {"values": [{"year": 1975}]}, "mark": {"type": "rule", "color": "black", "strokeWidth": 1.8, "strokeDash": [8, 5]}, "encoding": {"x": {"field": "year", "type": "quantitative"}}},
               {"data": {"values": [{"year": 2000}]}, "mark": {"type": "rule", "color": "black", "strokeWidth": 2, "strokeDash": [2, 6]}, "encoding": {"x": {"field": "year", "type": "quantitative"}}},
               {"data": {"values": [{"pct": 0}]}, "mark": {"type": "rule", "color": "black", "strokeWidth": 1.6}, "encoding": {"y": {"field": "pct", "type": "quantitative"}}}
             ]}
          ]
        }
      ]
    },
    {
      "spacing": 8,
      "hconcat": [
        {
          "spacing": 0,
          "vconcat": [
            {"width": 316, "height": 84, "view": {"fill": "#D9D9D9", "stroke": null},
             "data": {"name": "strips"}, "transform": [{"filter": "datum.panel === 'C-ME'"}],
             "layer": [
               {"mark": {"type": "text", "align": "right", "baseline": "alphabetic", "dx": 42.5, "dy": -18, "fontSize": 19, "color": "#1A1A1A"}, "encoding": {"text": {"field": "sigma"}}},
               {"mark": {"type": "text", "align": "left", "baseline": "alphabetic", "dx": 43.5, "dy": -14, "fontSize": 13.5, "color": "#1A1A1A"}, "encoding": {"text": {"field": "sub"}}},
               {"mark": {"type": "text", "align": "center", "baseline": "alphabetic", "dy": 28, "fontSize": 19, "color": "#1A1A1A"}, "encoding": {"text": {"field": "scenario"}}}
             ]},
            {"width": 316, "height": 271,
             "layer": [
               {"data": {"name": "eel"}, "transform": [{"filter": "datum.panel === 'C-ME'"}],
                "mark": {"type": "line", "strokeWidth": 2, "interpolate": "monotone"},
                "encoding": {
                  "x": {"field": "year", "type": "quantitative", "scale": {"domain": [1891.75, 2029.25], "nice": false, "zero": false}, "axis": {"values": [1920, 1960, 2000], "format": "d", "title": null}},
                  "y": {"field": "pct", "type": "quantitative", "scale": {"domain": [-4.29, 90.09], "nice": false, "zero": false}, "axis": {"values": [0, 25, 50, 75], "title": null}},
                  "color": {"field": "zone", "type": "nominal", "scale": {"domain": ["AS", "AC", "AN", "SF", "SG", "NG", "SL"], "range": ["#F8766D", "#C49A00", "#53B400", "#00C094", "#00B6EB", "#A58AFF", "#FB61D7"]}, "legend": {"title": "Zone", "orient": "none", "legendX": 1076, "legendY": 269}}
                }},
               {"data": {"values": [{"year": 1975}]}, "mark": {"type": "rule", "color": "black", "strokeWidth": 1.8, "strokeDash": [8, 5]}, "encoding": {"x": {"field": "year", "type": "quantitative"}}},
               {"data": {"values": [{"year": 2000}]}, "mark": {"type": "rule", "color": "black", "strokeWidth": 2, "strokeDash": [2, 6]}, "encoding": {"x": {"field": "year", "type": "quantitative"}}},
               {"data": {"values": [{"pct": 0}]}, "mark": {"type": "rule", "color": "black", "strokeWidth": 1.6}, "encoding": {"y": {"field": "pct", "type": "quantitative"}}}
             ]}
          ]
        },
        {
          "spacing": 0,
          "vconcat": [
            {"width": 316, "height": 84, "view": {"fill": "#D9D9D9", "stroke": null},
             "data": {"name": "strips"}, "transform": [{"filter": "datum.panel === 'C-IN'"}],
             "layer": [
               {"mark": {"type": "text", "align": "right", "baseline": "alphabetic", "dx": 42.5, "dy": -18, "fontSize": 19, "color": "#1A1A1A"}, "encoding": {"text": {"field": "sigma"}}},
               {"mark": {"type": "text", "align": "left", "baseline": "alphabetic", "dx": 43.5, "dy": -14, "fontSize": 13.5, "color": "#1A1A1A"}, "encoding": {"text": {"field": "sub"}}},
               {"mark": {"type": "text", "align": "center", "baseline": "alphabetic", "dy": 28, "fontSize": 19, "color": "#1A1A1A"}, "encoding": {"text": {"field": "scenario"}}}
             ]},
            {"width": 316, "height": 271,
             "layer": [
               {"data": {"name": "eel"}, "transform": [{"filter": "datum.panel === 'C-IN'"}],
                "mark": {"type": "line", "strokeWidth": 2, "interpolate": "monotone"},
                "encoding": {
                  "x": {"field": "year", "type": "quantitative", "scale": {"domain": [1891.75, 2029.25], "nice": false, "zero": false}, "axis": {"values": [1920, 1960, 2000], "format": "d", "title": "Year", "titlePadding": 2}},
                  "y": {"field": "pct", "type": "quantitative", "scale": {"domain": [-1.74, 36.54], "nice": false, "zero": false}, "axis": {"values": [0, 10, 20, 30], "title": null}},
                  "color": {"field": "zone", "type": "nominal", "scale": {"domain": ["AS", "AC", "AN", "SF", "SG", "NG", "SL"], "range": ["#F8766D", "#C49A00", "#53B400", "#00C094", "#00B6EB", "#A58AFF", "#FB61D7"]}, "legend": {"title": "Zone", "orient": "none", "legendX": 1076, "legendY": 269}}
                }},
               {"data": {"values": [{"year": 1975}]}, "mark": {"type": "rule", "color": "black", "strokeWidth": 1.8, "strokeDash": [8, 5]}, "encoding": {"x": {"field": "year", "type": "quantitative"}}},
               {"data": {"values": [{"year": 2000}]}, "mark": {"type": "rule", "color": "black", "strokeWidth": 2, "strokeDash": [2, 6]}, "encoding": {"x": {"field": "year", "type": "quantitative"}}},
               {"data": {"values": [{"pct": 0}]}, "mark": {"type": "rule", "color": "black", "strokeWidth": 1.6}, "encoding": {"y": {"field": "pct", "type": "quantitative"}}}
             ]}
          ]
        },
        {
          "spacing": 0,
          "vconcat": [
            {"width": 316, "height": 84, "view": {"fill": "#D9D9D9", "stroke": null},
             "data": {"name": "strips"}, "transform": [{"filter": "datum.panel === 'C-WA'"}],
             "layer": [
               {"mark": {"type": "text", "align": "right", "baseline": "alphabetic", "dx": 42.5, "dy": -18, "fontSize": 19, "color": "#1A1A1A"}, "encoding": {"text": {"field": "sigma"}}},
               {"mark": {"type": "text", "align": "left", "baseline": "alphabetic", "dx": 43.5, "dy": -14, "fontSize": 13.5, "color": "#1A1A1A"}, "encoding": {"text": {"field": "sub"}}},
               {"mark": {"type": "text", "align": "center", "baseline": "alphabetic", "dy": 28, "fontSize": 19, "color": "#1A1A1A"}, "encoding": {"text": {"field": "scenario"}}}
             ]},
            {"width": 316, "height": 271,
             "layer": [
               {"data": {"name": "eel"}, "transform": [{"filter": "datum.panel === 'C-WA'"}],
                "mark": {"type": "line", "strokeWidth": 2, "interpolate": "monotone"},
                "encoding": {
                  "x": {"field": "year", "type": "quantitative", "scale": {"domain": [1891.75, 2029.25], "nice": false, "zero": false}, "axis": {"values": [1920, 1960, 2000], "format": "d", "title": null}},
                  "y": {"field": "pct", "type": "quantitative", "scale": {"domain": [-1.685, 35.385], "nice": false, "zero": false}, "axis": {"values": [0, 10, 20, 30], "title": null}},
                  "color": {"field": "zone", "type": "nominal", "scale": {"domain": ["AS", "AC", "AN", "SF", "SG", "NG", "SL"], "range": ["#F8766D", "#C49A00", "#53B400", "#00C094", "#00B6EB", "#A58AFF", "#FB61D7"]}, "legend": {"title": "Zone", "orient": "none", "legendX": 1076, "legendY": 269}}
                }},
               {"data": {"values": [{"year": 1975}]}, "mark": {"type": "rule", "color": "black", "strokeWidth": 1.8, "strokeDash": [8, 5]}, "encoding": {"x": {"field": "year", "type": "quantitative"}}},
               {"data": {"values": [{"year": 2000}]}, "mark": {"type": "rule", "color": "black", "strokeWidth": 2, "strokeDash": [2, 6]}, "encoding": {"x": {"field": "year", "type": "quantitative"}}},
               {"data": {"values": [{"pct": 0}]}, "mark": {"type": "rule", "color": "black", "strokeWidth": 1.6}, "encoding": {"y": {"field": "pct", "type": "quantitative"}}}
             ]}
          ]
        }
      ]
    }
  ]
}
